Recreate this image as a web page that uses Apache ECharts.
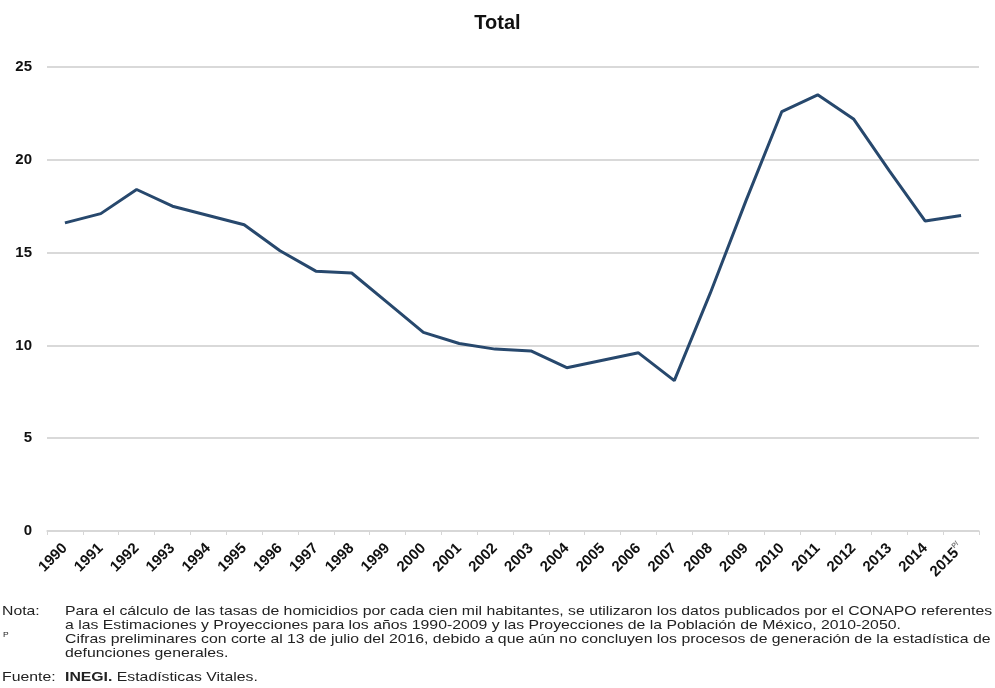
<!DOCTYPE html>
<html>
<head>
<meta charset="utf-8">
<script src="https://cdn.jsdelivr.net/npm/echarts@6/dist/echarts.min.js"></script>
<style>html,body{margin:0;padding:0;background:#fff}#c{width:995px;height:688px}</style>
</head>
<body>
<div id="c"></div>
<script>
const years = ['1990','1991','1992','1993','1994','1995','1996','1997','1998','1999','2000','2001','2002','2003','2004','2005','2006','2007','2008','2009','2010','2011','2012','2013','2014','2015'];
const values = [16.6,17.1,18.4,17.5,17.0,16.5,15.1,14.0,13.9,12.3,10.7,10.1,9.8,9.7,8.8,9.2,9.6,8.1,12.8,17.8,22.6,23.5,22.2,19.4,16.7,17.0];
const title = 'Total';
const noteLines = [
  'Para el cálculo de las tasas de homicidios por cada cien mil habitantes, se utilizaron los datos publicados por el CONAPO referentes',
  'a las Estimaciones y Proyecciones para los años 1990-2009 y las Proyecciones de la Población de México, 2010-2050.',
  'Cifras preliminares con corte al 13 de julio del 2016, debido a que aún no concluyen los procesos de generación de la estadística de',
  'defunciones generales.'
];

const chart = echarts.init(document.getElementById('c'), null, {renderer:'canvas'});
const FONT = 'Liberation Sans, Arial, sans-serif';
const SX = 1.215;
const noteStyle = {fontFamily: FONT, fontSize: 13, fill: '#222'};
function note(text, left, top, extra) {
  return {type: 'text', x: left, y: top, scaleX: SX, style: Object.assign({}, noteStyle, {text: text}, extra || {})};
}
chart.setOption({
  animation: false,
  backgroundColor: '#fff',
  title: {text: title, left: 'center', top: 8, textStyle: {fontFamily: FONT, fontSize: 20, fontWeight: 'bold', color: '#111'}},
  grid: {left: 47, right: 16, top: 67, bottom: 157, containLabel: false},
  xAxis: {
    type: 'category', data: years, boundaryGap: true,
    axisLine: {lineStyle: {color: '#d6d6d6', width: 1.5}},
    axisTick: {show: true, length: 4, lineStyle: {color: '#d6d6d6'}},
    axisLabel: {
      rotate: 45, margin: 15, fontFamily: FONT, fontSize: 15, fontWeight: 'bold', color: '#111', interval: 0,
      formatter: function (v, i) { return i === years.length - 1 ? '{a|' + v + '}{s|P/}' : v; },
      rich: {a: {fontFamily: FONT, fontSize: 15, fontWeight: 'bold', color: '#111'}, s: {fontFamily: FONT, fontSize: 7, color: '#777', verticalAlign: 'top', padding: [0,0,10,0]}}
    }
  },
  yAxis: {
    type: 'value', min: 0, max: 25, interval: 5,
    axisLine: {show: false}, axisTick: {show: false},
    axisLabel: {margin: 15, fontFamily: FONT, fontSize: 15, fontWeight: 'bold', color: '#111'},
    splitLine: {lineStyle: {color: '#d9d9d9', width: 2}}
  },
  series: [{
    type: 'line', data: values, symbol: 'none',
    lineStyle: {color: '#27486d', width: 3}
  }],
  graphic: [
    note('Nota:', 2, 605),
    note(noteLines[0], 65, 605),
    note(noteLines[1], 65, 619),
    note('P', 3, 632, {fontSize: 7}),
    note(noteLines[2], 65, 633),
    note(noteLines[3], 65, 647),
    note('Fuente:', 2, 671),
    note('{b|INEGI.} Estadísticas Vitales.', 65, 671, {rich: {b: {fontFamily: FONT, fontSize: 13, fontWeight: 'bold', fill: '#222'}}})
  ]
});
</script>
</body>
</html>
